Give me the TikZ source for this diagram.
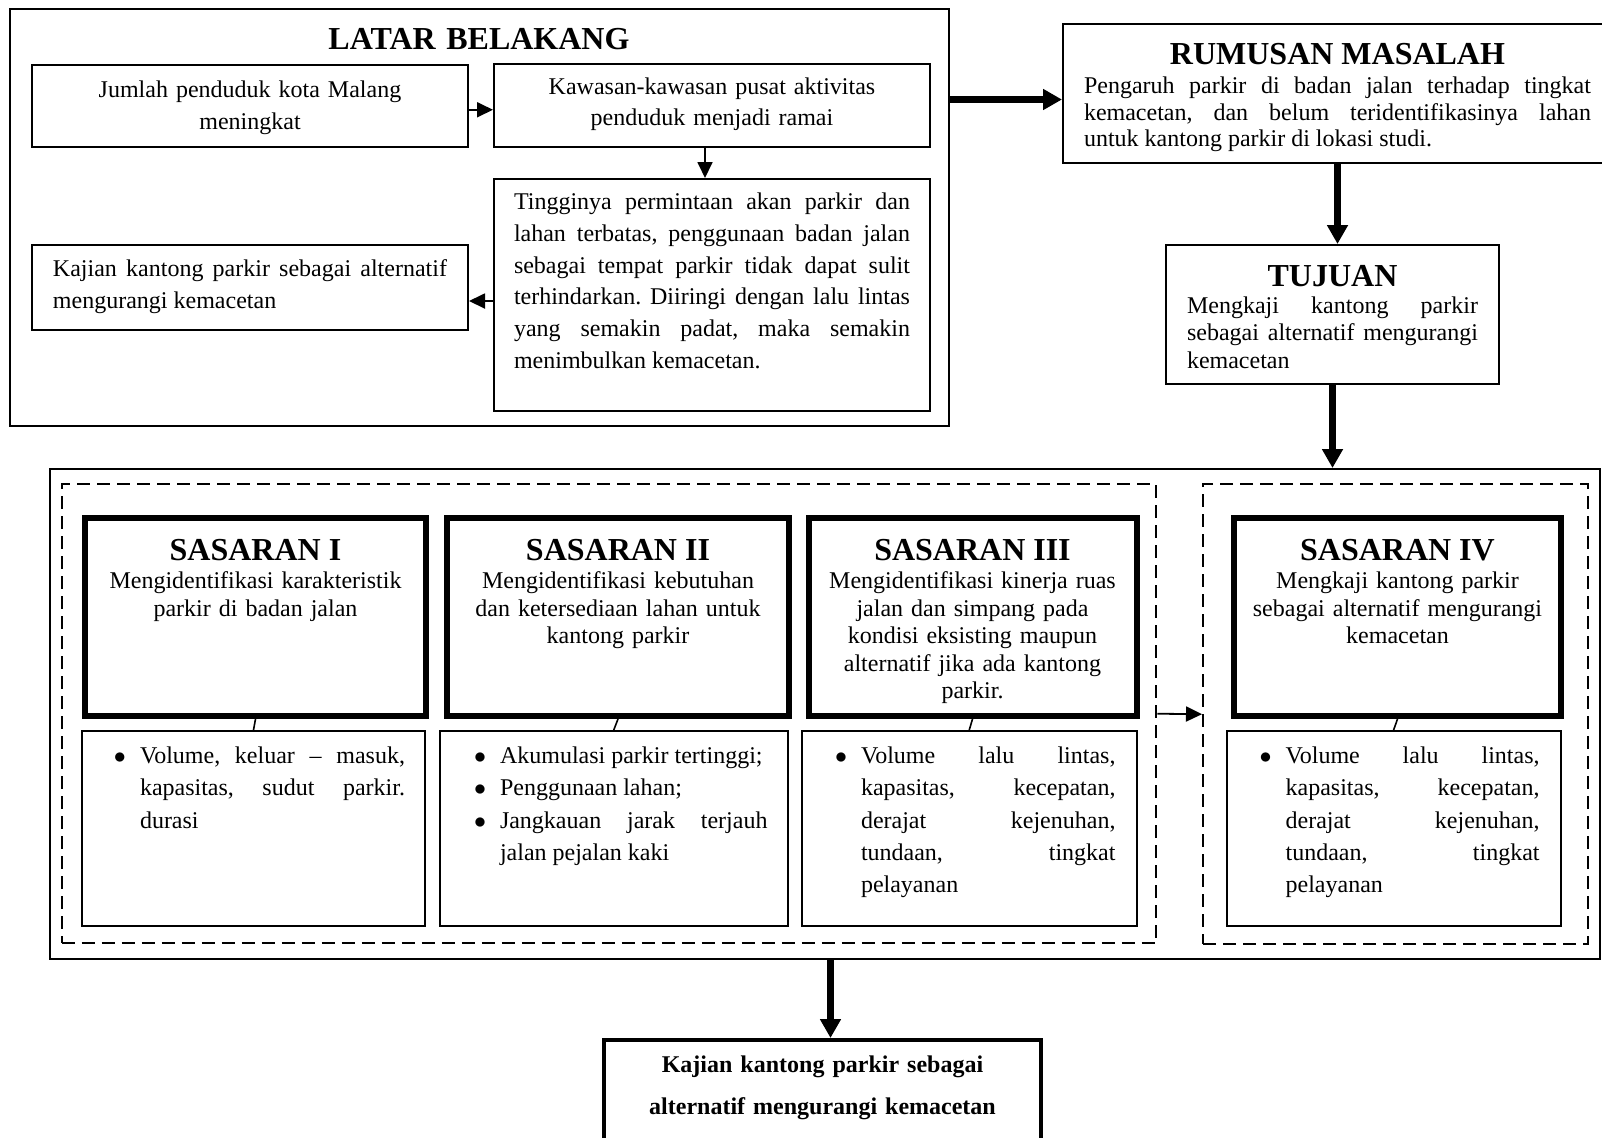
\documentclass[tikz,border=0pt]{standalone}
\usepackage{fontspec}
\setmainfont{Liberation Serif}
\usetikzlibrary{arrows.meta}
\tolerance=10000
\hbadness=10000
\hyphenpenalty=10000
\frenchspacing
\newcommand{\judul}[1]{{\centering\fontsize{16}{16}\selectfont\bfseries #1\par}}
\newcommand{\rata}[3]{{\leftskip=#1\relax\rightskip=#2\relax\parfillskip=0pt plus 1fil\relax
  \spaceskip=0pt\relax\xspaceskip=0pt\relax #3\par}}
\newcommand{\butir}{\hangindent=13pt\relax\hangafter=1\relax\makebox[13pt][l]{$\bullet$}}

\begin{document}
\begin{tikzpicture}[x=0.5pt, y=-0.5pt,
  kotak/.style={draw, line width=1pt, anchor=north west, inner sep=0pt, font=\fontsize{12}{16}\selectfont},
  tebal/.style={kotak, line width=3pt, align=center},
  butirkotak/.style={kotak, text height=16.25pt, text depth=81.25pt, font=\fontsize{12}{16.15}\selectfont},
  putus/.style={draw, line width=1.2pt, dash pattern=on 6.5pt off 3.5pt, anchor=north west, inner sep=0pt},
  panah/.style={-{Triangle[length=8pt,width=7.5pt]}, line width=0.9pt},
  panahbesar/.style={-{Triangle[length=9.5pt,width=10pt]}, line width=3.2pt}]
  \path[use as bounding box, clip] (0,0) rectangle (1602,1137);

  % latar belakang
  \node[kotak, text width=469.5pt, text height=20.25pt, text depth=188.5pt, align=center,
    font=\fontsize{16}{16}\selectfont\bfseries] (latar) at (8.5,7.5) {LATAR BELAKANG};
  \node[kotak, text width=218pt, text height=16pt, text depth=24.75pt, align=center] (jumlah) at (31,64)
    {Jumlah penduduk kota Malang\\meningkat};
  \node[kotak, text width=218pt, text height=15.25pt, text depth=26.25pt, align=center,
    font=\fontsize{12}{15.5}\selectfont] (kawasan) at (493,62.5)
    {Kawasan-kawasan pusat aktivitas\\penduduk menjadi ramai};
  \node[kotak, text width=198pt, inner xsep=10pt, text height=15.25pt, text depth=100.75pt,
    font=\fontsize{12}{15.9}\selectfont] (tinggi) at (493,178)
    {\rata{0pt}{0pt}{Tingginya permintaan akan parkir dan\linebreak lahan terbatas, penggunaan badan jalan\linebreak
     sebagai tempat parkir tidak dapat sulit\linebreak terhindarkan. Diiringi dengan lalu lintas\linebreak
     yang semakin padat, maka semakin\linebreak menimbulkan kemacetan.}};
  \node[kotak, text width=197pt, inner xsep=10.5pt, text height=15.75pt, text depth=26.75pt] (kajian) at (31,244)
    {\rata{0pt}{0pt}{Kajian kantong parkir sebagai alternatif\linebreak mengurangi kemacetan}};

  % rumusan masalah dan tujuan
  \node[kotak, text width=253.5pt, inner xsep=10.5pt, text height=20pt, text depth=49.5pt] (rumusan) at (1062,23)
    {\judul{RUMUSAN MASALAH}\vspace{1.5pt}{\fontsize{12}{13.25}\selectfont
     \rata{0pt}{0pt}{Pengaruh parkir di badan jalan terhadap tingkat\linebreak kemacetan, dan belum teridentifikasinya lahan\linebreak
     untuk kantong parkir di lokasi studi.}}};
  \node[kotak, text width=145.5pt, inner xsep=10.5pt, text height=20.5pt, text depth=49pt] (tujuan) at (1165,244)
    {\judul{TUJUAN}\vspace{-0.3pt}{\fontsize{12}{13.8}\selectfont
     \rata{0pt}{0pt}{Mengkaji kantong parkir\linebreak sebagai alternatif mengurangi\linebreak kemacetan}}};

  % sasaran
  \node[kotak, minimum width=775pt, minimum height=245pt] (bingkai) at (48.5,468) {};
  \node[putus, minimum width=547.25pt, minimum height=229.5pt] (putusA) at (60.5,483) {};
  \node[putus, minimum width=192.5pt, minimum height=230pt] (putusB) at (1202,483) {};

  \node[tebal, text width=170.5pt, text height=21pt, text depth=78pt] (sasI) at (82,515)
    {\judul{SASARAN I}\vspace{0.5pt}{\fontsize{12}{13.75}\selectfont
     Mengidentifikasi karakteristik\\parkir di badan jalan\par}};
  \node[tebal, text width=171pt, text height=21pt, text depth=78pt] (sasII) at (444,515)
    {\judul{SASARAN II}\vspace{0.5pt}{\fontsize{12}{13.75}\selectfont
     Mengidentifikasi kebutuhan\\dan ketersediaan lahan untuk\\kantong parkir\par}};
  \node[tebal, text width=164pt, text height=21pt, text depth=78pt] (sasIII) at (805.5,515)
    {\judul{SASARAN III}\vspace{0.5pt}{\fontsize{12}{13.75}\selectfont
     Mengidentifikasi kinerja ruas\\jalan dan simpang pada\\kondisi eksisting maupun\\alternatif jika ada kantong\\parkir.\par}};
  \node[tebal, text width=163.5pt, text height=21pt, text depth=78pt] (sasIV) at (1231,515)
    {\judul{SASARAN IV}\vspace{0.5pt}{\fontsize{12}{13.75}\selectfont
     Mengkaji kantong parkir\\sebagai alternatif mengurangi\\kemacetan\par}};

  \node[butirkotak, text width=171.5pt] (itemI) at (81,730)
    {\rata{16pt}{10pt}{\butir Volume, keluar -- masuk,\linebreak kapasitas, sudut parkir.\linebreak durasi}};
  \node[butirkotak, text width=173.75pt] (itemII) at (439,730)
    {\rata{17pt}{10pt}{\butir Akumulasi parkir tertinggi;\par
     \butir Penggunaan lahan;\par
     \butir Jangkauan jarak terjauh\linebreak jalan pejalan kaki}};
  \node[butirkotak, text width=167.25pt] (itemIII) at (801,730)
    {\rata{16.5pt}{10.5pt}{\butir Volume lalu lintas,\linebreak kapasitas, kecepatan,\linebreak derajat kejenuhan,\linebreak
     tundaan, tingkat\linebreak pelayanan}};
  \node[butirkotak, text width=167pt] (itemIV) at (1225.6,730)
    {\rata{16.5pt}{10.5pt}{\butir Volume lalu lintas,\linebreak kapasitas, kecepatan,\linebreak derajat kejenuhan,\linebreak
     tundaan, tingkat\linebreak pelayanan}};

  % hasil
  \node[kotak, line width=2pt, text width=218.5pt, text height=16pt, text depth=60pt, align=center,
    font=\fontsize{12}{21}\selectfont\bfseries] (hasil) at (602,1038)
    {Kajian kantong parkir sebagai\\alternatif mengurangi kemacetan};

  % panah
  \coordinate (r1) at ([yshift=-3pt]rumusan.west);
  \draw[panahbesar] (latar.east |- r1) -- (r1);
  \draw[panahbesar] (rumusan.south) -- (rumusan.south |- tujuan.north);
  \draw[panahbesar] (tujuan.south) -- (tujuan.south |- bingkai.north);
  \coordinate (h1) at ([xshift=4pt]hasil.north);
  \draw[panahbesar] (bingkai.south -| h1) -- (h1);
  \draw[panah] (putusA.east) -- (putusB.west);
  \coordinate (j1) at ([yshift=-2pt]jumlah.east);
  \draw[panah] (j1) -- (j1 -| kawasan.west);
  \coordinate (k1) at ([xshift=-3.5pt]kawasan.south);
  \draw[panah] (k1) -- (k1 |- tinggi.north);
  \coordinate (t1) at ([yshift=-3pt]tinggi.west);
  \draw[panah] (t1) -- (t1 -| kajian.east);
  \foreach \s in {I,II,III,IV}
    \draw[line width=0.8pt] (sas\s.south) -- (item\s.north);
\end{tikzpicture}
\end{document}
